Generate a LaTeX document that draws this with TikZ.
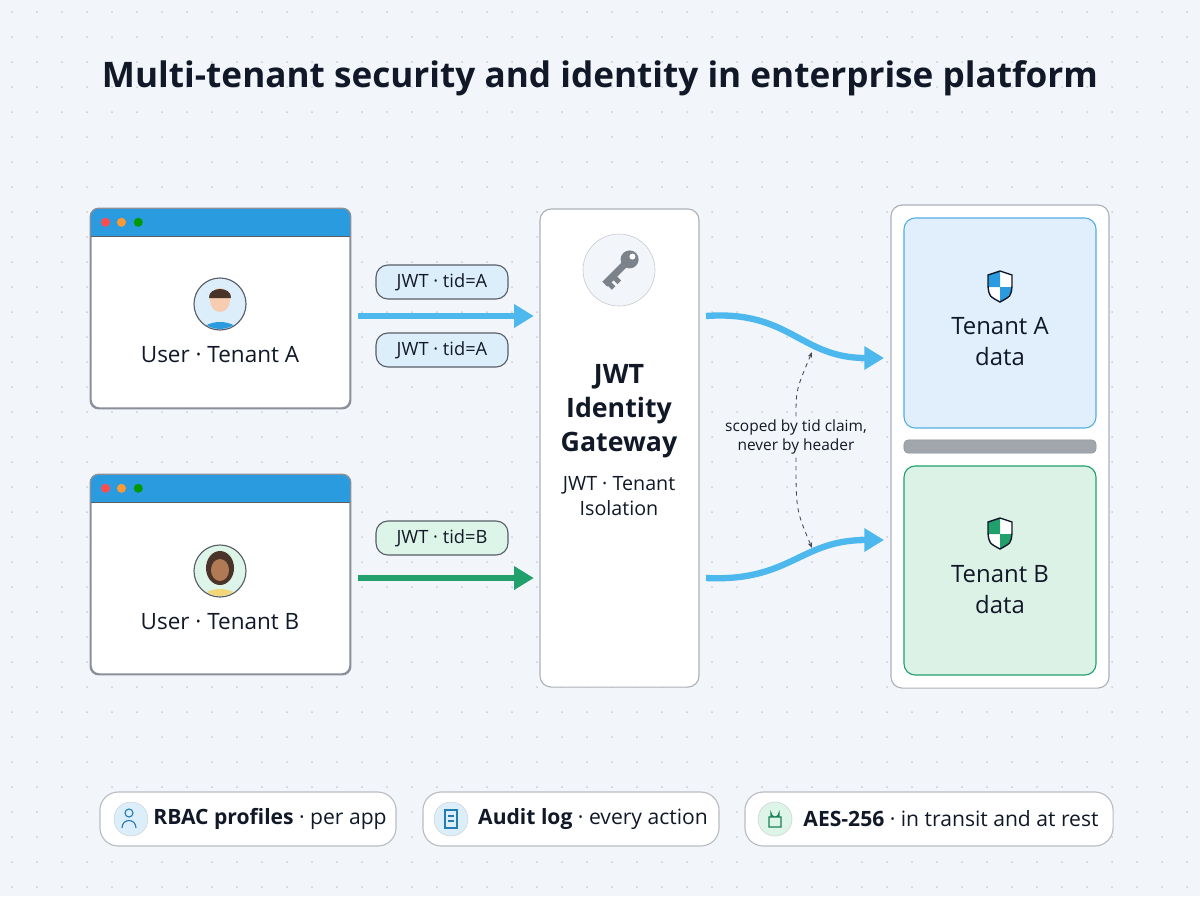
\documentclass[tikz,border=0pt]{standalone}
\usepackage{fontspec}
\setmainfont{Open Sans}
\usetikzlibrary{positioning, fit, arrows.meta}
\definecolor{bgc}{HTML}{F2F5F9}
\definecolor{ink}{HTML}{111827}
\definecolor{edge}{HTML}{8A9099}
\definecolor{winblue}{HTML}{2A9BDF}
\definecolor{flowblue}{HTML}{4DB8EE}
\definecolor{flowgreen}{HTML}{22A06B}
\definecolor{paleblue}{HTML}{E0EFFB}
\definecolor{palegreen}{HTML}{DCF2E7}
\definecolor{pillblue}{HTML}{DDEEFB}
\definecolor{pillgreen}{HTML}{DDF4E8}
\definecolor{skin}{HTML}{F6CDB0}
\definecolor{skindark}{HTML}{B07A55}
\definecolor{hair}{HTML}{4A3328}
\definecolor{shirt}{HTML}{F1D77A}
\begin{document}
\begin{tikzpicture}[
        x=0.025cm, y=-0.025cm,
        every node/.style={text=ink, inner sep=0pt},
        window/.style={draw=edge, line width=1pt, fill=white, rounded corners=6pt, minimum width=6.475cm, minimum height=4.975cm},
        card/.style={draw=edge!70, line width=0.8pt, fill=white, rounded corners=8pt},
        pill/.style={draw=ink!70, line width=0.8pt, rounded corners=8.5pt, minimum width=3.3cm, minimum height=0.85cm, font=\fontsize{13}{15}\selectfont},
        tag/.style={draw=edge!60, line width=0.8pt, fill=white, rounded corners=13pt, minimum height=1.35cm, font=\fontsize{15}{18}\selectfont},
        label/.style={font=\fontsize{16}{19}\selectfont, align=center},
        flow/.style={line width=4.5pt, -{Triangle[length=14pt, width=16pt]}},
        note/.style={dashed, line width=0.6pt, ink!80, -{Stealth[length=4pt]}}
    ]

    % background with dot grid
    \fill[bgc] (0,0) rectangle (1200,896);
    \foreach \gx in {12,37,...,1200} {
        \foreach \gy in {12,37,...,896} {
            \fill[edge!45] (\gx,\gy) circle (1);
        }
    }
    \useasboundingbox (0,0) rectangle (1200,896);

    \node[font=\fontsize{25}{30}\selectfont\bfseries] (title) at (600,78) {Multi-tenant security and identity in enterprise platform};

    % user windows
    \node[window] (winA) at (220.5,308.5) {};
    \node[window] (winB) at (220.5,574.5) {};
    \foreach \w in {winA, winB} {
        \begin{scope}
            \clip[rounded corners=6pt] (\w.south west) rectangle (\w.north east);
            \fill[winblue] (\w.north west) rectangle ([yshift=-0.7cm]\w.north east);
            \draw[ink!70, line width=0.8pt] ([yshift=-0.7cm]\w.north west) -- ([yshift=-0.7cm]\w.north east);
        \end{scope}
        \draw[edge, line width=1pt, rounded corners=6pt] (\w.south west) rectangle (\w.north east);
        \foreach \dx/\dc in {0.38/red!70, 0.78/orange!80, 1.2/green!60!black} {
            \fill[\dc] ([xshift=\dx cm, yshift=-0.35cm]\w.north west) circle (4.5);
        }
    }

    % avatars
    \node[circle, draw=ink!70, line width=0.8pt, fill=pillblue, minimum size=1.3cm] (avA) at (220,304) {};
    \node[circle, draw=ink!70, line width=0.8pt, fill=pillgreen, minimum size=1.3cm] (avB) at (220,571) {};
    \begin{scope}
        \clip (220,304) circle (25);
        \fill[winblue] (220,334) ellipse (20 and 12);
        \fill[skin] (220,300) ellipse (10 and 12);
        \fill[hair] (209,298) .. controls (208,286) and (232,286) .. (231,298) -- cycle;
    \end{scope}
    \begin{scope}
        \clip (220,571) circle (25);
        \fill[hair] (220,568) ellipse (14 and 17);
        \fill[shirt] (220,601) ellipse (20 and 12);
        \fill[skindark] (220,570) ellipse (9 and 11);
    \end{scope}
    \node[label] (userA) at (220,355) {User · Tenant A};
    \node[label] (userB) at (220,622) {User · Tenant B};

    % tokens
    \node[pill, fill=pillblue] (tokA1) at (442,282) {JWT · tid=A};
    \node[pill, fill=pillblue] (tokA2) at (442,350) {JWT · tid=A};
    \node[pill, fill=pillgreen] (tokB) at (442,538) {JWT · tid=B};

    % gateway
    \node[card, minimum width=3.975cm, minimum height=11.95cm] (gate) at (619.5,448) {};
    \node[circle, draw=edge!50, fill=bgc, minimum size=1.8cm] (key) at (619,270) {};
    \begin{scope}[rotate around={-45:(619,270)}]
        \fill[edge!90!black] (619,255) circle (9);
        \fill[white] (619,251) circle (3);
        \fill[edge!90!black] (615.5,262) rectangle (622.5,290);
        \fill[edge!90!black] (622,276) rectangle (628,281);
        \fill[edge!90!black] (622,284) rectangle (628,289);
    \end{scope}
    \node[label, font=\fontsize{19}{24}\selectfont\bfseries] (gname) at (619,411) {JWT\\Identity\\Gateway};
    \node[label, font=\fontsize{14}{18}\selectfont] (gsub) at (619,496) {JWT · Tenant\\Isolation};

    % tenant store
    \node[card, minimum width=5.45cm, minimum height=12.075cm] (store) at (1000,446.5) {};
    \node[draw=winblue!80, fill=paleblue, rounded corners=8pt, line width=0.8pt, minimum width=4.8cm, minimum height=5.25cm] (dataA) at (1000,323) {};
    \node[draw=flowgreen, fill=palegreen, rounded corners=8pt, line width=0.8pt, minimum width=4.8cm, minimum height=5.225cm] (dataB) at (1000,570.5) {};
    \node[fill=edge!80, draw=edge, rounded corners=3pt, minimum width=4.8cm, minimum height=0.33cm] (wall) at (1000,446.5) {};
    \foreach \s/\c/\yy in {shA/winblue/288, shB/flowgreen/535} {
        \coordinate (\s) at (1000,\yy);
        \fill[white] (988,\yy-13) -- (1000,\yy-17) -- (1012,\yy-13) -- (1012,\yy-2) .. controls (1011,\yy+8) .. (1000,\yy+14) .. controls (989,\yy+8) .. (988,\yy-2) -- cycle;
        \fill[\c] (988,\yy-13) -- (1000,\yy-17) -- (1000,\yy-1) -- (988,\yy-1) -- cycle;
        \fill[\c] (1000,\yy-1) -- (1012,\yy-1) -- (1011,\yy+4) .. controls (1008,\yy+9) .. (1000,\yy+14) -- cycle;
        \draw[ink, line width=1pt] (988,\yy-13) -- (1000,\yy-17) -- (1012,\yy-13) -- (1012,\yy-2) .. controls (1011,\yy+8) .. (1000,\yy+14) .. controls (989,\yy+8) .. (988,\yy-2) -- cycle;
    }
    \node[label, font=\fontsize{17}{22}\selectfont] (nameA) at (1000,342) {Tenant A\\data};
    \node[label, font=\fontsize{17}{22}\selectfont] (nameB) at (1000,590) {Tenant B\\data};

    % flows
    \coordinate (inA) at (358,316);
    \coordinate (inB) at (358,578);
    \coordinate (outA) at (706,316);
    \coordinate (outB) at (706,578);
    \coordinate (endA) at (884,358);
    \coordinate (endB) at (884,540);
    \draw[flow, flowblue] (inA) -- ([xshift=-4pt]gate.west |- inA);
    \draw[flow, flowgreen] (inB) -- ([xshift=-4pt]gate.west |- inB);
    \draw[flow, flowblue] (outA) .. controls (790,310) and (800,358) .. (endA);
    \draw[flow, flowblue] (outB) .. controls (790,582) and (800,540) .. (endB);

    % scope note
    \node[label, font=\fontsize{11}{14}\selectfont, fill=bgc, inner sep=2pt] (scope) at (796,437) {scoped by tid claim,\\never by header};
    \draw[note] (scope.north) .. controls (796,390) .. (812,352);
    \draw[note] (scope.south) .. controls (796,510) .. (812,548);

    % footer tags
    \node[tag, minimum width=7.4cm] (rbac) at (248,819) {\hspace{1.1cm}\textbf{RBAC profiles} · per app};
    \node[tag, minimum width=7.4cm] (audit) at (571,819) {\hspace{1.1cm}\textbf{Audit log} · every action};
    \node[tag, minimum width=9.2cm] (aes) at (929,819) {\hspace{1.1cm}\textbf{AES-256} · in transit and at rest};
    \node[circle, draw=edge!40, fill=pillblue, minimum size=0.85cm] (icR) at (131,819) {};
    \node[circle, draw=edge!40, fill=pillblue, minimum size=0.85cm] (icA) at (451,819) {};
    \node[circle, draw=edge!40, fill=pillgreen, minimum size=0.85cm] (icL) at (775,819) {};
    \draw[winblue!80!black, line width=0.8pt] (129,813) circle (4) (122,828) .. controls (122,818) and (136,818) .. (136,828);
    \draw[winblue!80!black, line width=0.8pt] (445,810) rectangle (457,828) (448,816) -- (454,816) (448,821) -- (454,821);
    \draw[flowgreen!80!black, line width=0.8pt] (769,817) rectangle (781,827) (771,817) -- (771,813) arc (180:0:4) -- (779,817);
\end{tikzpicture}
\end{document}
